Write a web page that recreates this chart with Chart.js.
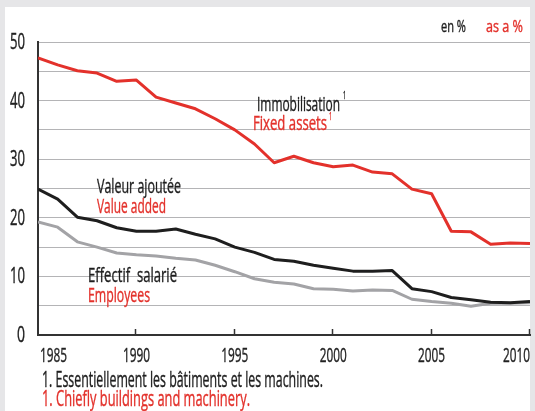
<!DOCTYPE html>
<html lang="fr">
<head>
<meta charset="UTF-8">
<title>Immobilisation, valeur ajoutée, effectif salarié</title>
<script src="https://cdn.jsdelivr.net/npm/chart.js"></script>
<style>
  body { margin: 0; background: #e6e6e8; }
  canvas { display: block; }
</style>
</head>
<body>
<canvas id="chart" width="535" height="411"></canvas>
<script>
// data (en % / as a %)
const years = [1985, 1986, 1987, 1988, 1989, 1990, 1991, 1992, 1993, 1994, 1995, 1996, 1997,
               1998, 1999, 2000, 2001, 2002, 2003, 2004, 2005, 2006, 2007, 2008, 2009, 2010];
const fixedAssets = [47.3, 46.1, 45.1, 44.7, 43.3, 43.5, 40.6, 39.6, 38.6, 36.9, 35.0, 32.6, 29.4,
                     30.5, 29.4, 28.7, 29.0, 27.8, 27.5, 24.9, 24.1, 17.7, 17.6, 15.5, 15.7, 15.6];
const valueAdded = [24.9, 23.2, 20.1, 19.5, 18.3, 17.7, 17.7, 18.1, 17.2, 16.4, 15.0, 14.1, 12.9,
                    12.6, 11.9, 11.4, 10.9, 10.9, 11.0, 7.9, 7.4, 6.4, 6.0, 5.6, 5.5, 5.7];
const employees = [19.3, 18.4, 15.9, 15.0, 14.0, 13.7, 13.5, 13.1, 12.8, 11.9, 10.8, 9.6, 9.0,
                   8.7, 7.9, 7.8, 7.5, 7.7, 7.6, 6.1, 5.7, 5.4, 4.9, 5.4, 5.4, 5.5];
const xTicks = [1985, 1990, 1995, 2000, 2005, 2010];
const yLabels = [0, 10, 20, 30, 40, 50];

const RED = '#e3312b';
const BLACK = '#1e1e1e';
const GREY = '#a3a3a6';
const FONT = "'Open Sans', 'DejaVu Sans', sans-serif";

function toPoints(vals) {
    return vals.map((v, i) => ({ x: years[i], y: v }));
}

// narrow text: squeeze horizontally to a given width (the original uses a condensed face)
function narrowText(c, txt, x, y, size, color, width, align) {
    c.save();
    c.font = size + 'px ' + FONT;
    c.fillStyle = color;
    c.strokeStyle = color;
    c.lineWidth = 0.4;
    c.textBaseline = 'alphabetic';
    c.textAlign = 'left';
    const w = c.measureText(txt).width;
    const sx = width ? width / w : 0.75;
    let left = x;
    if (align === 'right') left = x - w * sx;
    if (align === 'center') left = x - w * sx / 2;
    c.translate(left, y);
    c.scale(sx, 1);
    c.fillText(txt, 0, 0);
    c.strokeText(txt, 0, 0);
    c.restore();
    return left + w * sx;
}

// background frame + texts + axis labels/tick marks
const decor = {
    id: 'decor',
    beforeDraw(chart) {
        const c = chart.ctx;
        c.save();
        c.fillStyle = '#e6e6e8';
        c.fillRect(0, 0, chart.width, chart.height);
        c.fillStyle = '#ffffff';
        c.fillRect(5, 7, 525, chart.height - 7);
        c.restore();
    },
    afterDraw(chart) {
        const c = chart.ctx;
        const xs = chart.scales.x;
        const ys = chart.scales.y;
        const bottom = chart.chartArea.bottom;
        c.save();
        // small upward ticks on the x axis
        c.strokeStyle = '#333';
        c.lineWidth = 1.5;
        xTicks.slice(1).forEach(yr => {
            const px = Math.round(xs.getPixelForValue(yr)) - 0.5;
            c.beginPath();
            c.moveTo(px, bottom);
            c.lineTo(px, bottom - 6);
            c.stroke();
        });
        c.restore();

        // x labels, first and last kept inside the frame
        xTicks.forEach((yr, i) => {
            const px = xs.getPixelForValue(yr);
            const al = i === 0 ? 'left' : (i === xTicks.length - 1 ? 'right' : 'center');
            narrowText(c, String(yr), i === 0 ? px + 2 : px, 362, 20, '#222', 27, al);
        });
        // y labels
        yLabels.forEach(v => {
            const py = ys.getPixelForValue(v);
            narrowText(c, String(v), 25, py + 7, 21, '#222', v === 0 ? 8 : 15, 'right');
        });

        // series names
        const sup = (x, y, col) => narrowText(c, '1', x, y, 11, col, 3);
        let e = narrowText(c, 'Immobilisation', 257, 111, 20, BLACK, 83);
        sup(e + 3, 99, BLACK);
        e = narrowText(c, 'Fixed assets', 253, 130, 20, RED, 74);
        sup(e + 2, 120, RED);
        narrowText(c, 'Valeur ajoutée', 97, 193, 20, BLACK, 84);
        narrowText(c, 'Value added', 97, 213, 20, RED, 69);
        narrowText(c, 'Effectif  salarié', 88, 282, 20, BLACK, 89);
        narrowText(c, 'Employees', 88, 302, 20, RED, 62);

        // unit
        narrowText(c, 'en %', 441, 32, 17, BLACK, 25);
        narrowText(c, 'as a %', 486, 32, 17, RED, 37);

        // footnotes
        narrowText(c, '1. Essentiellement les bâtiments et les machines.', 42, 387, 21, BLACK, 281);
        narrowText(c, '1. Chiefly buildings and machinery.', 42, 406, 21, RED, 208);
    }
};

new Chart(document.getElementById('chart'), {
    type: 'line',
    data: {
        datasets: [
            { label: 'Immobilisation', data: toPoints(fixedAssets), borderColor: RED },
            { label: 'Valeur ajoutée', data: toPoints(valueAdded), borderColor: BLACK },
            { label: 'Effectif salarié', data: toPoints(employees), borderColor: GREY }
        ]
    },
    options: {
        responsive: false,
        animation: false,
        layout: { padding: { top: 42, right: 5, left: 0, bottom: 0 } },
        elements: {
            line: { borderWidth: 3, tension: 0, borderJoinStyle: 'round', fill: false },
            point: { radius: 0 }
        },
        scales: {
            x: {
                type: 'linear',
                min: 1985,
                max: 2010,
                grid: { display: false },
                border: { color: '#333', width: 2 },
                ticks: { display: false, stepSize: 5 },
                afterFit(s) { s.height = 76; }
            },
            y: {
                min: 0,
                max: 50,
                grid: { color: '#b4b4b6', lineWidth: 1, drawTicks: false },
                border: { color: '#333', width: 2 },
                ticks: { display: false, stepSize: 5 },
                afterFit(s) { s.width = 38; }
            }
        },
        plugins: {
            legend: { display: false },
            tooltip: { enabled: false }
        }
    },
    plugins: [decor]
});
</script>
</body>
</html>
